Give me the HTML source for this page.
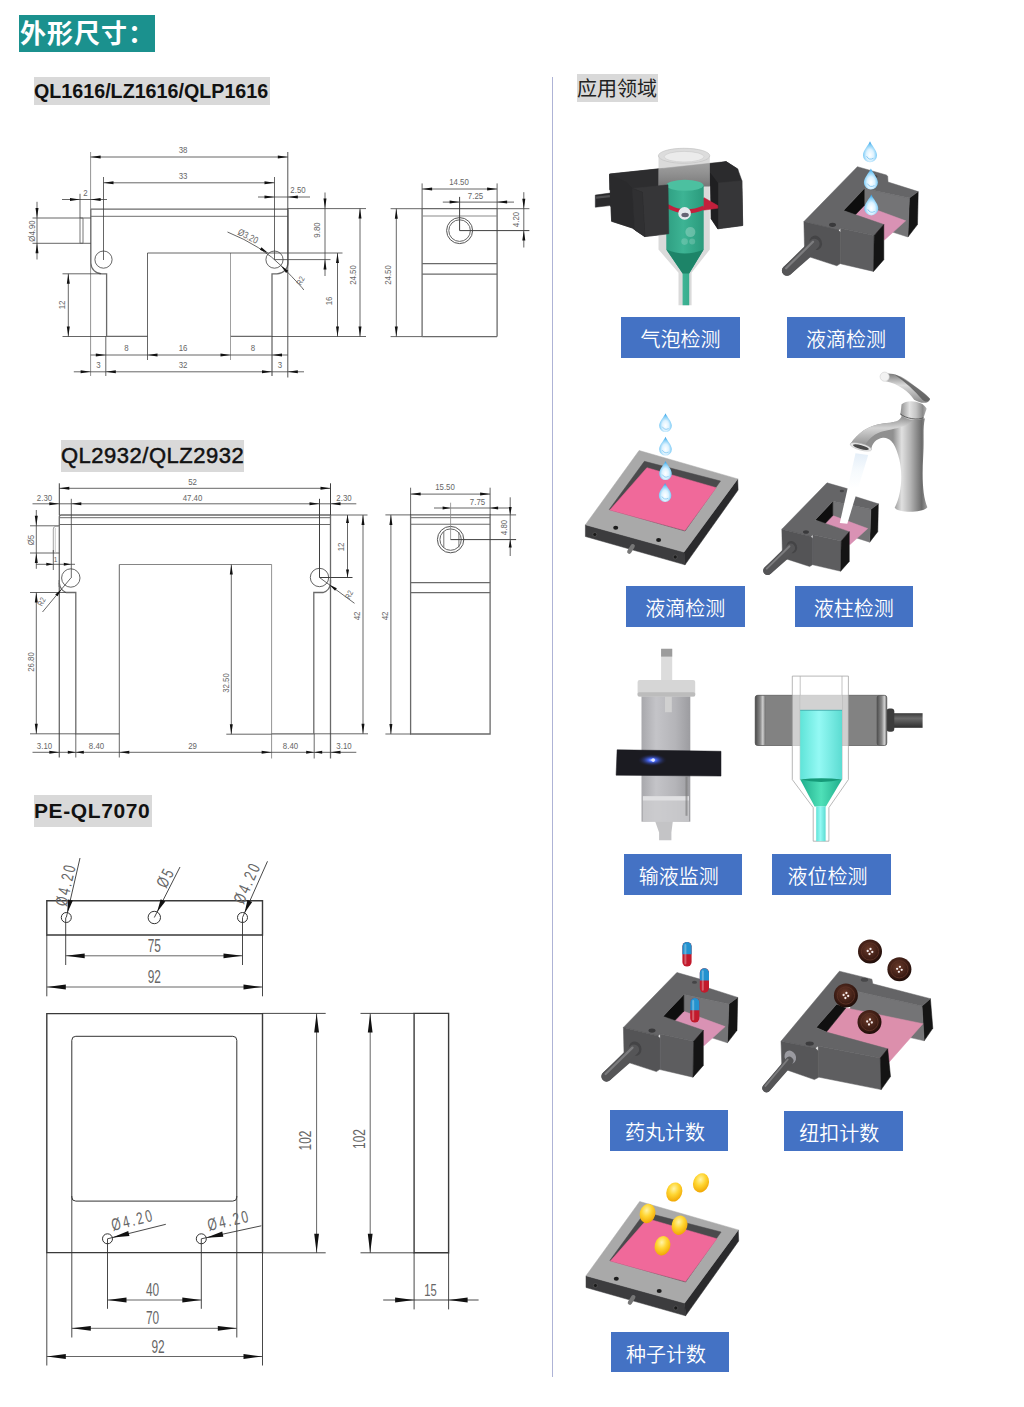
<!DOCTYPE html>
<html lang="zh"><head><meta charset="utf-8"><title>外形尺寸</title>
<style>
html,body{margin:0;padding:0;background:#fff}
body{width:1024px;height:1407px;position:relative;overflow:hidden;font-family:"Liberation Sans","Noto Sans CJK SC",sans-serif}
svg{position:absolute;left:0;top:0}
.d{font-family:"Liberation Sans",sans-serif}
.ttl{position:absolute;left:19px;top:15px;width:136px;height:37px;background:#1b918e;color:#fff;font-weight:700;font-size:26px;line-height:38px;box-sizing:border-box;padding-left:1px;letter-spacing:1px;white-space:nowrap}
.lb{position:absolute;background:#d9d9d9;color:#111;font-weight:700;white-space:nowrap}
.hd{position:absolute;left:577px;top:74px;width:81px;height:28px;background:#d9d9d9;color:#222;font-size:20px;line-height:30px;font-weight:400;white-space:nowrap}
.bl{position:absolute;background:#4472c4;color:#fff;font-size:20px;font-weight:300;text-align:center;white-space:nowrap;width:118.5px;height:40.7px;line-height:46px;box-sizing:border-box;font-weight:350}
</style></head><body>
<div class="ttl">外形尺寸：</div>
<div class="lb" style="left:34px;top:77px;width:236px;height:28px;font-size:19.7px;line-height:28px;">QL1616/LZ1616/QLP1616</div>
<div class="lb" style="left:61px;top:440px;width:183px;height:32px;font-size:22px;line-height:32px;font-weight:400;-webkit-text-stroke:0.5px #111;letter-spacing:0.5px">QL2932/QLZ2932</div>
<div class="lb" style="left:34px;top:795px;width:118px;height:32px;font-size:21px;line-height:31px;letter-spacing:0.6px">PE-QL7070</div>
<div class="hd">应用领域</div>
<div style="position:absolute;left:551.9px;top:76.5px;width:1.5px;height:1300.5px;background:#aeb3d6"></div>
<svg width="1024" height="1407" viewBox="0 0 1024 1407">
<g id="dw1">
<line x1="90.80" y1="209.20" x2="288.00" y2="209.20" stroke="#6a6a6a" stroke-width="1.3"/>
<line x1="90.80" y1="216.40" x2="288.00" y2="216.40" stroke="#8a8a8a" stroke-width="1.1"/>
<path d="M90.8 209.2 V263 A11 11 0 0 0 101.8 273.8 H106.6 V336.4 H147.5" stroke="#6a6a6a" stroke-width="1.3" fill="none"/>
<path d="M288 209.2 V263 A11 11 0 0 1 277 273.8 H272 V336.4 H230.5" stroke="#6a6a6a" stroke-width="1.3" fill="none"/>
<line x1="147.50" y1="253.00" x2="147.50" y2="360.00" stroke="#3f3f3f" stroke-width="0.8"/>
<line x1="230.50" y1="253.00" x2="230.50" y2="360.00" stroke="#888" stroke-width="0.8"/>
<line x1="147.50" y1="253.00" x2="342.50" y2="253.00" stroke="#3f3f3f" stroke-width="0.8"/>
<line x1="90.60" y1="152.00" x2="90.60" y2="376.00" stroke="#777" stroke-width="0.8"/>
<line x1="287.80" y1="152.00" x2="287.80" y2="377.50" stroke="#3f3f3f" stroke-width="0.9"/>
<line x1="103.50" y1="177.00" x2="103.50" y2="260.00" stroke="#3f3f3f" stroke-width="0.8"/>
<line x1="274.50" y1="177.00" x2="274.50" y2="260.00" stroke="#3f3f3f" stroke-width="0.8"/>
<line x1="105.80" y1="336.40" x2="105.80" y2="376.00" stroke="#3f3f3f" stroke-width="0.8"/>
<line x1="272.00" y1="336.40" x2="272.00" y2="376.00" stroke="#3f3f3f" stroke-width="1"/>
<circle cx="103.50" cy="259.60" r="8.60" stroke="#3f3f3f" stroke-width="0.8" fill="none"/>
<circle cx="274.50" cy="259.60" r="8.60" stroke="#3f3f3f" stroke-width="0.8" fill="none"/>
<line x1="32.50" y1="218.00" x2="90.80" y2="218.00" stroke="#3f3f3f" stroke-width="0.8"/>
<line x1="32.50" y1="243.30" x2="90.80" y2="243.30" stroke="#3f3f3f" stroke-width="0.8"/>
<path d="M80 218 H83 V243.3 H80 Z" stroke="#666" stroke-width="0.9" fill="none"/>
<line x1="80.00" y1="193.80" x2="80.00" y2="218.00" stroke="#3f3f3f" stroke-width="0.8"/>
<line x1="90.60" y1="157.00" x2="287.80" y2="157.00" stroke="#3f3f3f" stroke-width="0.8"/>
<polygon points="90.60,157.00 100.60,155.50 100.60,158.50" fill="#111"/>
<polygon points="287.80,157.00 277.80,158.50 277.80,155.50" fill="#111"/>
<text transform="translate(183.00,152.50) scale(0.82,1)" font-size="9.6" fill="#666" text-anchor="middle" letter-spacing="0" class="d">38</text>
<line x1="103.50" y1="182.80" x2="274.50" y2="182.80" stroke="#3f3f3f" stroke-width="0.8"/>
<polygon points="103.50,182.80 113.50,181.30 113.50,184.30" fill="#111"/>
<polygon points="274.50,182.80 264.50,184.30 264.50,181.30" fill="#111"/>
<text transform="translate(183.00,178.50) scale(0.82,1)" font-size="9.6" fill="#666" text-anchor="middle" letter-spacing="0" class="d">33</text>
<line x1="62.00" y1="199.50" x2="107.00" y2="199.50" stroke="#3f3f3f" stroke-width="0.8"/>
<polygon points="80.00,199.50 70.00,201.00 70.00,198.00" fill="#111"/>
<polygon points="90.60,199.50 100.60,198.00 100.60,201.00" fill="#111"/>
<text transform="translate(85.50,195.50) scale(0.82,1)" font-size="9.6" fill="#666" text-anchor="middle" letter-spacing="0" class="d">2</text>
<line x1="258.00" y1="197.00" x2="310.00" y2="197.00" stroke="#3f3f3f" stroke-width="0.8"/>
<polygon points="274.50,197.00 264.50,198.50 264.50,195.50" fill="#111"/>
<polygon points="287.80,197.00 297.80,195.50 297.80,198.50" fill="#111"/>
<text transform="translate(298.00,192.50) scale(0.82,1)" font-size="9.6" fill="#666" text-anchor="middle" letter-spacing="0" class="d">2.50</text>
<line x1="37.00" y1="201.80" x2="37.00" y2="259.50" stroke="#3f3f3f" stroke-width="0.8"/>
<polygon points="37.00,218.00 35.50,208.00 38.50,208.00" fill="#111"/>
<polygon points="37.00,243.30 38.50,253.30 35.50,253.30" fill="#111"/>
<text transform="translate(34.50,231.00) rotate(-90) scale(0.82,1)" font-size="9.6" fill="#666" text-anchor="middle" letter-spacing="0" class="d">Ø4.90</text>
<line x1="62.50" y1="273.80" x2="101.00" y2="273.80" stroke="#3f3f3f" stroke-width="0.8"/>
<line x1="62.50" y1="336.50" x2="106.00" y2="336.50" stroke="#3f3f3f" stroke-width="0.8"/>
<line x1="68.30" y1="273.80" x2="68.30" y2="336.50" stroke="#3f3f3f" stroke-width="0.8"/>
<polygon points="68.30,273.80 69.80,283.80 66.80,283.80" fill="#111"/>
<polygon points="68.30,336.50 66.80,326.50 69.80,326.50" fill="#111"/>
<text transform="translate(64.50,305.00) rotate(-90) scale(0.82,1)" font-size="9.6" fill="#666" text-anchor="middle" letter-spacing="0" class="d">12</text>
<line x1="90.60" y1="355.00" x2="287.80" y2="355.00" stroke="#3f3f3f" stroke-width="0.8"/>
<polygon points="105.80,355.00 95.80,356.50 95.80,353.50" fill="#111"/>
<polygon points="147.50,355.00 157.50,353.50 157.50,356.50" fill="#111"/>
<polygon points="230.50,355.00 220.50,356.50 220.50,353.50" fill="#111"/>
<polygon points="272.00,355.00 282.00,353.50 282.00,356.50" fill="#111"/>
<text transform="translate(126.50,351.00) scale(0.82,1)" font-size="9.6" fill="#666" text-anchor="middle" letter-spacing="0" class="d">8</text>
<text transform="translate(183.00,351.00) scale(0.82,1)" font-size="9.6" fill="#666" text-anchor="middle" letter-spacing="0" class="d">16</text>
<text transform="translate(253.00,351.00) scale(0.82,1)" font-size="9.6" fill="#666" text-anchor="middle" letter-spacing="0" class="d">8</text>
<line x1="73.80" y1="371.80" x2="304.00" y2="371.80" stroke="#3f3f3f" stroke-width="0.8"/>
<polygon points="90.60,371.80 80.60,373.30 80.60,370.30" fill="#111"/>
<polygon points="105.80,371.80 115.80,370.30 115.80,373.30" fill="#111"/>
<polygon points="272.00,371.80 262.00,373.30 262.00,370.30" fill="#111"/>
<polygon points="287.80,371.80 297.80,370.30 297.80,373.30" fill="#111"/>
<text transform="translate(98.50,367.50) scale(0.82,1)" font-size="9.6" fill="#666" text-anchor="middle" letter-spacing="0" class="d">3</text>
<text transform="translate(183.00,367.50) scale(0.82,1)" font-size="9.6" fill="#666" text-anchor="middle" letter-spacing="0" class="d">32</text>
<text transform="translate(280.00,367.50) scale(0.82,1)" font-size="9.6" fill="#666" text-anchor="middle" letter-spacing="0" class="d">3</text>
<line x1="287.80" y1="208.60" x2="366.00" y2="208.60" stroke="#3f3f3f" stroke-width="0.8"/>
<line x1="272.00" y1="336.50" x2="366.00" y2="336.50" stroke="#3f3f3f" stroke-width="0.8"/>
<line x1="275.00" y1="259.60" x2="330.50" y2="259.60" stroke="#3f3f3f" stroke-width="0.8"/>
<line x1="325.00" y1="192.50" x2="325.00" y2="276.00" stroke="#3f3f3f" stroke-width="0.8"/>
<polygon points="325.00,208.60 323.50,198.60 326.50,198.60" fill="#111"/>
<polygon points="325.00,259.60 326.50,269.60 323.50,269.60" fill="#111"/>
<text transform="translate(319.50,230.00) rotate(-90) scale(0.82,1)" font-size="9.6" fill="#666" text-anchor="middle" letter-spacing="0" class="d">9.80</text>
<line x1="337.50" y1="253.00" x2="337.50" y2="336.50" stroke="#3f3f3f" stroke-width="0.8"/>
<polygon points="337.50,253.00 339.00,263.00 336.00,263.00" fill="#111"/>
<polygon points="337.50,336.50 336.00,326.50 339.00,326.50" fill="#111"/>
<text transform="translate(331.50,301.00) rotate(-90) scale(0.82,1)" font-size="9.6" fill="#666" text-anchor="middle" letter-spacing="0" class="d">16</text>
<line x1="360.00" y1="208.60" x2="360.00" y2="336.50" stroke="#3f3f3f" stroke-width="0.8"/>
<polygon points="360.00,208.60 361.50,218.60 358.50,218.60" fill="#111"/>
<polygon points="360.00,336.50 358.50,326.50 361.50,326.50" fill="#111"/>
<text transform="translate(356.00,275.00) rotate(-90) scale(0.82,1)" font-size="9.6" fill="#666" text-anchor="middle" letter-spacing="0" class="d">24.50</text>
<path d="M227.5 232 Q262 246 282.5 267 T303.8 290" stroke="#3f3f3f" stroke-width="0.8" fill="none"/>
<polygon points="268.30,253.20 259.87,249.70 261.46,247.16" fill="#111"/>
<polygon points="280.80,265.50 288.22,270.80 286.10,272.92" fill="#111"/>
<text transform="translate(246.50,239.00) rotate(27) scale(0.82,1)" font-size="9.6" fill="#666" text-anchor="middle" letter-spacing="0" class="d">Ø3.20</text>
<text transform="translate(303.00,282.00) rotate(-62) scale(0.82,1)" font-size="8" fill="#666" text-anchor="middle" letter-spacing="0" class="d">R2</text>
<line x1="422.10" y1="208.70" x2="497.10" y2="208.70" stroke="#6a6a6a" stroke-width="1.3"/>
<line x1="422.10" y1="208.70" x2="422.10" y2="336.60" stroke="#6a6a6a" stroke-width="1.3"/>
<line x1="497.10" y1="208.70" x2="497.10" y2="336.60" stroke="#6a6a6a" stroke-width="1.3"/>
<line x1="422.10" y1="336.60" x2="497.10" y2="336.60" stroke="#6a6a6a" stroke-width="1.3"/>
<line x1="422.10" y1="216.00" x2="497.10" y2="216.00" stroke="#8a8a8a" stroke-width="1.1"/>
<line x1="422.10" y1="263.60" x2="497.10" y2="263.60" stroke="#6a6a6a" stroke-width="1.3"/>
<line x1="422.10" y1="274.10" x2="497.10" y2="274.10" stroke="#6a6a6a" stroke-width="1.3"/>
<circle cx="459.60" cy="230.60" r="13.00" stroke="#555" stroke-width="1" fill="none"/>
<circle cx="459.60" cy="230.60" r="10.80" stroke="#555" stroke-width="0.9" fill="none"/>
<line x1="422.10" y1="183.40" x2="422.10" y2="208.70" stroke="#3f3f3f" stroke-width="0.8"/>
<line x1="497.10" y1="183.40" x2="497.10" y2="208.70" stroke="#3f3f3f" stroke-width="0.8"/>
<line x1="422.10" y1="189.00" x2="497.10" y2="189.00" stroke="#3f3f3f" stroke-width="0.8"/>
<polygon points="422.10,189.00 432.10,187.50 432.10,190.50" fill="#111"/>
<polygon points="497.10,189.00 487.10,190.50 487.10,187.50" fill="#111"/>
<text transform="translate(459.00,185.00) scale(0.82,1)" font-size="9.6" fill="#666" text-anchor="middle" letter-spacing="0" class="d">14.50</text>
<line x1="442.80" y1="202.10" x2="514.00" y2="202.10" stroke="#3f3f3f" stroke-width="0.8"/>
<polygon points="459.60,202.10 449.60,203.60 449.60,200.60" fill="#111"/>
<polygon points="497.10,202.10 507.10,200.60 507.10,203.60" fill="#111"/>
<line x1="459.60" y1="196.90" x2="459.60" y2="230.60" stroke="#3f3f3f" stroke-width="1"/>
<text transform="translate(475.50,198.50) scale(0.82,1)" font-size="9.6" fill="#666" text-anchor="middle" letter-spacing="0" class="d">7.25</text>
<line x1="523.80" y1="192.20" x2="523.80" y2="247.50" stroke="#3f3f3f" stroke-width="0.8"/>
<polygon points="523.80,208.70 522.30,198.70 525.30,198.70" fill="#111"/>
<polygon points="523.80,230.60 525.30,240.60 522.30,240.60" fill="#111"/>
<line x1="497.10" y1="208.70" x2="529.40" y2="208.70" stroke="#3f3f3f" stroke-width="0.8"/>
<line x1="459.60" y1="230.60" x2="529.40" y2="230.60" stroke="#3f3f3f" stroke-width="1"/>
<text transform="translate(519.00,219.50) rotate(-90) scale(0.82,1)" font-size="9.6" fill="#666" text-anchor="middle" letter-spacing="0" class="d">4.20</text>
<line x1="390.60" y1="208.70" x2="422.10" y2="208.70" stroke="#3f3f3f" stroke-width="0.8"/>
<line x1="390.60" y1="336.60" x2="422.10" y2="336.60" stroke="#3f3f3f" stroke-width="0.8"/>
<line x1="396.30" y1="208.70" x2="396.30" y2="336.60" stroke="#3f3f3f" stroke-width="0.8"/>
<polygon points="396.30,208.70 397.80,218.70 394.80,218.70" fill="#111"/>
<polygon points="396.30,336.60 394.80,326.60 397.80,326.60" fill="#111"/>
<text transform="translate(391.00,275.00) rotate(-90) scale(0.82,1)" font-size="9.6" fill="#666" text-anchor="middle" letter-spacing="0" class="d">24.50</text>
</g>
<g id="dw2">
<path d="M59.3 587 V517 Q59.3 515 61.3 515 H330.5" stroke="#6a6a6a" stroke-width="1.3" fill="none"/>
<line x1="59.30" y1="524.50" x2="330.50" y2="524.50" stroke="#6a6a6a" stroke-width="1.2"/>
<line x1="59.80" y1="517.70" x2="330.50" y2="517.70" stroke="#6a6a6a" stroke-width="1.0"/>
<path d="M59.3 583 Q60 590 66 592.5 H75.8 V733.8 H119.3" stroke="#6a6a6a" stroke-width="1.3" fill="none"/>
<line x1="59.30" y1="580.00" x2="59.30" y2="757.50" stroke="#6a6a6a" stroke-width="1.3"/>
<path d="M330.5 515 V583 Q330 590.5 323 592.5 H313.8 V733.8 H271.5" stroke="#6a6a6a" stroke-width="1.3" fill="none"/>
<line x1="330.50" y1="580.00" x2="330.50" y2="758.50" stroke="#6a6a6a" stroke-width="1.3"/>
<line x1="75.80" y1="733.80" x2="75.80" y2="757.50" stroke="#6a6a6a" stroke-width="1"/>
<line x1="314.20" y1="733.80" x2="314.20" y2="758.50" stroke="#6a6a6a" stroke-width="1"/>
<line x1="119.30" y1="564.50" x2="119.30" y2="757.50" stroke="#3f3f3f" stroke-width="0.8"/>
<line x1="271.60" y1="564.50" x2="271.60" y2="758.50" stroke="#777" stroke-width="0.8"/>
<line x1="119.30" y1="564.50" x2="271.60" y2="564.50" stroke="#666" stroke-width="0.8"/>
<circle cx="70.80" cy="578.00" r="9.20" stroke="#3f3f3f" stroke-width="0.8" fill="none"/>
<circle cx="319.50" cy="577.50" r="9.20" stroke="#3f3f3f" stroke-width="0.8" fill="none"/>
<line x1="59.30" y1="483.30" x2="59.30" y2="515.00" stroke="#3f3f3f" stroke-width="1"/>
<line x1="330.50" y1="483.30" x2="330.50" y2="515.00" stroke="#3f3f3f" stroke-width="1"/>
<line x1="59.30" y1="488.30" x2="330.50" y2="488.30" stroke="#3f3f3f" stroke-width="0.8"/>
<polygon points="59.30,488.30 69.30,486.80 69.30,489.80" fill="#111"/>
<polygon points="330.50,488.30 320.50,489.80 320.50,486.80" fill="#111"/>
<text transform="translate(192.50,484.50) scale(0.82,1)" font-size="9.6" fill="#666" text-anchor="middle" letter-spacing="0" class="d">52</text>
<line x1="32.50" y1="503.80" x2="356.30" y2="503.80" stroke="#3f3f3f" stroke-width="0.8"/>
<polygon points="59.30,503.80 49.30,505.30 49.30,502.30" fill="#111"/>
<polygon points="71.30,503.80 81.30,502.30 81.30,505.30" fill="#111"/>
<polygon points="319.50,503.80 309.50,505.30 309.50,502.30" fill="#111"/>
<polygon points="330.50,503.80 340.50,502.30 340.50,505.30" fill="#111"/>
<line x1="71.30" y1="498.80" x2="71.30" y2="578.00" stroke="#3f3f3f" stroke-width="0.8"/>
<line x1="319.50" y1="498.80" x2="319.50" y2="577.50" stroke="#3f3f3f" stroke-width="1"/>
<text transform="translate(44.50,500.50) scale(0.82,1)" font-size="9.6" fill="#666" text-anchor="middle" letter-spacing="0" class="d">2.30</text>
<text transform="translate(192.50,500.50) scale(0.82,1)" font-size="9.6" fill="#666" text-anchor="middle" letter-spacing="0" class="d">47.40</text>
<text transform="translate(344.00,500.50) scale(0.82,1)" font-size="9.6" fill="#666" text-anchor="middle" letter-spacing="0" class="d">2.30</text>
<line x1="36.30" y1="510.00" x2="36.30" y2="568.80" stroke="#3f3f3f" stroke-width="0.8"/>
<polygon points="36.30,525.80 34.80,515.80 37.80,515.80" fill="#111"/>
<polygon points="36.30,553.00 37.80,563.00 34.80,563.00" fill="#111"/>
<line x1="30.00" y1="525.80" x2="59.30" y2="525.80" stroke="#3f3f3f" stroke-width="0.8"/>
<line x1="30.00" y1="553.00" x2="59.30" y2="553.00" stroke="#3f3f3f" stroke-width="0.8"/>
<text transform="translate(34.00,540.00) rotate(-90) scale(0.82,1)" font-size="9.6" fill="#666" text-anchor="middle" letter-spacing="0" class="d">Ø5</text>
<path d="M53.3 553 V529 Q53.3 526.3 56 526.3 H59.3" stroke="#999" stroke-width="0.9" fill="none"/>
<line x1="55.30" y1="528.00" x2="55.30" y2="553.00" stroke="#bbb" stroke-width="0.8"/>
<line x1="53.30" y1="550.00" x2="53.30" y2="570.00" stroke="#3f3f3f" stroke-width="0.8"/>
<line x1="36.30" y1="564.30" x2="75.00" y2="564.30" stroke="#3f3f3f" stroke-width="0.8"/>
<polygon points="53.30,564.30 46.30,565.80 46.30,562.80" fill="#111"/>
<polygon points="70.80,564.30 63.80,565.80 63.80,562.80" fill="#111"/>
<text transform="translate(55.50,561.50) scale(0.82,1)" font-size="8" fill="#666" text-anchor="middle" letter-spacing="0" class="d">1</text>
<line x1="30.00" y1="592.50" x2="66.00" y2="592.50" stroke="#3f3f3f" stroke-width="0.8"/>
<line x1="30.00" y1="733.80" x2="75.80" y2="733.80" stroke="#3f3f3f" stroke-width="0.8"/>
<line x1="36.30" y1="592.50" x2="36.30" y2="733.80" stroke="#3f3f3f" stroke-width="0.8"/>
<polygon points="36.30,592.50 37.80,602.50 34.80,602.50" fill="#111"/>
<polygon points="36.30,733.80 34.80,723.80 37.80,723.80" fill="#111"/>
<text transform="translate(33.50,662.00) rotate(-90) scale(0.82,1)" font-size="9.6" fill="#666" text-anchor="middle" letter-spacing="0" class="d">26.80</text>
<line x1="42.50" y1="612.00" x2="70.80" y2="578.00" stroke="#3f3f3f" stroke-width="0.8"/>
<polygon points="61.50,589.20 57.53,596.31 55.23,594.39" fill="#111"/>
<text transform="translate(44.00,603.00) rotate(-62) scale(0.82,1)" font-size="8" fill="#666" text-anchor="middle" letter-spacing="0" class="d">R2</text>
<line x1="32.50" y1="752.30" x2="356.30" y2="752.30" stroke="#3f3f3f" stroke-width="0.8"/>
<polygon points="59.30,752.30 49.30,753.80 49.30,750.80" fill="#111"/>
<polygon points="75.80,752.30 67.80,753.80 67.80,750.80" fill="#111"/>
<polygon points="75.80,752.30 83.80,750.80 83.80,753.80" fill="#111"/>
<polygon points="119.30,752.30 129.30,750.80 129.30,753.80" fill="#111"/>
<polygon points="271.60,752.30 261.60,753.80 261.60,750.80" fill="#111"/>
<polygon points="314.20,752.30 306.20,753.80 306.20,750.80" fill="#111"/>
<polygon points="314.20,752.30 322.20,750.80 322.20,753.80" fill="#111"/>
<polygon points="330.50,752.30 340.50,750.80 340.50,753.80" fill="#111"/>
<text transform="translate(44.50,749.00) scale(0.82,1)" font-size="9.6" fill="#666" text-anchor="middle" letter-spacing="0" class="d">3.10</text>
<text transform="translate(96.50,749.00) scale(0.82,1)" font-size="9.6" fill="#666" text-anchor="middle" letter-spacing="0" class="d">8.40</text>
<text transform="translate(192.50,749.00) scale(0.82,1)" font-size="9.6" fill="#666" text-anchor="middle" letter-spacing="0" class="d">29</text>
<text transform="translate(290.50,749.00) scale(0.82,1)" font-size="9.6" fill="#666" text-anchor="middle" letter-spacing="0" class="d">8.40</text>
<text transform="translate(344.00,749.00) scale(0.82,1)" font-size="9.6" fill="#666" text-anchor="middle" letter-spacing="0" class="d">3.10</text>
<line x1="226.30" y1="734.20" x2="271.60" y2="734.20" stroke="#3f3f3f" stroke-width="0.8"/>
<line x1="231.30" y1="564.50" x2="231.30" y2="734.20" stroke="#3f3f3f" stroke-width="0.8"/>
<polygon points="231.30,564.50 232.80,574.50 229.80,574.50" fill="#111"/>
<polygon points="231.30,734.20 229.80,724.20 232.80,724.20" fill="#111"/>
<text transform="translate(228.50,683.00) rotate(-90) scale(0.82,1)" font-size="9.6" fill="#666" text-anchor="middle" letter-spacing="0" class="d">32.50</text>
<line x1="330.50" y1="515.00" x2="367.50" y2="515.00" stroke="#3f3f3f" stroke-width="0.8"/>
<line x1="319.50" y1="577.50" x2="352.50" y2="577.50" stroke="#3f3f3f" stroke-width="1"/>
<line x1="347.50" y1="515.00" x2="347.50" y2="577.50" stroke="#3f3f3f" stroke-width="0.8"/>
<polygon points="347.50,515.00 349.00,523.00 346.00,523.00" fill="#111"/>
<polygon points="347.50,577.50 346.00,569.50 349.00,569.50" fill="#111"/>
<text transform="translate(343.50,547.00) rotate(-90) scale(0.82,1)" font-size="9.6" fill="#666" text-anchor="middle" letter-spacing="0" class="d">12</text>
<line x1="319.50" y1="577.50" x2="354.50" y2="603.30" stroke="#3f3f3f" stroke-width="0.8"/>
<polygon points="329.50,584.80 336.83,588.34 335.05,590.75" fill="#111"/>
<text transform="translate(351.50,596.00) rotate(-62) scale(0.82,1)" font-size="8" fill="#666" text-anchor="middle" letter-spacing="0" class="d">R2</text>
<line x1="314.20" y1="733.80" x2="368.00" y2="733.80" stroke="#3f3f3f" stroke-width="0.8"/>
<line x1="363.00" y1="515.00" x2="363.00" y2="733.80" stroke="#3f3f3f" stroke-width="0.8"/>
<polygon points="363.00,515.00 364.50,525.00 361.50,525.00" fill="#111"/>
<polygon points="363.00,733.80 361.50,723.80 364.50,723.80" fill="#111"/>
<text transform="translate(360.00,616.00) rotate(-90) scale(0.82,1)" font-size="9.6" fill="#666" text-anchor="middle" letter-spacing="0" class="d">42</text>
<path d="M410.6 514.9 H490.1 V734 H410.6 Z" stroke="#6a6a6a" stroke-width="1.3" fill="none"/>
<line x1="410.60" y1="524.20" x2="490.10" y2="524.20" stroke="#6a6a6a" stroke-width="1.1"/>
<line x1="410.60" y1="517.70" x2="490.10" y2="517.70" stroke="#6a6a6a" stroke-width="1.0"/>
<line x1="410.60" y1="582.70" x2="490.10" y2="582.70" stroke="#6a6a6a" stroke-width="1.3"/>
<line x1="410.60" y1="592.70" x2="490.10" y2="592.70" stroke="#6a6a6a" stroke-width="1.3"/>
<circle cx="450.60" cy="539.60" r="13.20" stroke="#555" stroke-width="1" fill="none"/>
<circle cx="450.60" cy="539.60" r="10.70" stroke="#555" stroke-width="0.9" fill="none"/>
<line x1="443.80" y1="532.00" x2="443.80" y2="547.50" stroke="#666" stroke-width="0.9"/>
<line x1="458.90" y1="532.00" x2="458.90" y2="547.50" stroke="#666" stroke-width="0.9"/>
<line x1="410.60" y1="487.70" x2="410.60" y2="515.00" stroke="#3f3f3f" stroke-width="0.8"/>
<line x1="490.10" y1="487.70" x2="490.10" y2="515.00" stroke="#3f3f3f" stroke-width="0.8"/>
<line x1="410.60" y1="494.10" x2="490.10" y2="494.10" stroke="#3f3f3f" stroke-width="0.8"/>
<polygon points="410.60,494.10 420.60,492.60 420.60,495.60" fill="#111"/>
<polygon points="490.10,494.10 480.10,495.60 480.10,492.60" fill="#111"/>
<text transform="translate(445.00,490.00) scale(0.82,1)" font-size="9.6" fill="#666" text-anchor="middle" letter-spacing="0" class="d">15.50</text>
<line x1="434.00" y1="508.00" x2="508.70" y2="508.00" stroke="#3f3f3f" stroke-width="0.8"/>
<polygon points="450.60,508.00 442.60,509.50 442.60,506.50" fill="#111"/>
<polygon points="490.10,508.00 498.10,506.50 498.10,509.50" fill="#111"/>
<line x1="450.60" y1="502.70" x2="450.60" y2="539.60" stroke="#888" stroke-width="0.8"/>
<text transform="translate(477.50,505.00) scale(0.82,1)" font-size="9.6" fill="#666" text-anchor="middle" letter-spacing="0" class="d">7.75</text>
<line x1="510.20" y1="497.30" x2="510.20" y2="556.00" stroke="#3f3f3f" stroke-width="0.8"/>
<polygon points="510.20,514.90 508.70,506.90 511.70,506.90" fill="#111"/>
<polygon points="510.20,539.60 511.70,547.60 508.70,547.60" fill="#111"/>
<line x1="490.10" y1="514.90" x2="516.10" y2="514.90" stroke="#3f3f3f" stroke-width="0.8"/>
<line x1="450.60" y1="539.60" x2="516.10" y2="539.60" stroke="#3f3f3f" stroke-width="1"/>
<text transform="translate(507.00,527.50) rotate(-90) scale(0.82,1)" font-size="9.6" fill="#666" text-anchor="middle" letter-spacing="0" class="d">4.80</text>
<line x1="385.40" y1="514.90" x2="410.60" y2="514.90" stroke="#3f3f3f" stroke-width="0.8"/>
<line x1="385.40" y1="734.00" x2="410.60" y2="734.00" stroke="#3f3f3f" stroke-width="0.8"/>
<line x1="390.90" y1="514.90" x2="390.90" y2="734.00" stroke="#3f3f3f" stroke-width="0.8"/>
<polygon points="390.90,514.90 392.40,524.90 389.40,524.90" fill="#111"/>
<polygon points="390.90,734.00 389.40,724.00 392.40,724.00" fill="#111"/>
<text transform="translate(387.50,616.00) rotate(-90) scale(0.82,1)" font-size="9.6" fill="#666" text-anchor="middle" letter-spacing="0" class="d">42</text>
</g>
<g id="dw3">
<path d="M46.8 900.8 H262.5 V935 H46.8 Z" stroke="#3a3a3a" stroke-width="1.4" fill="none"/>
<circle cx="66.30" cy="917.50" r="5.00" stroke="#333" stroke-width="1" fill="none"/>
<circle cx="154.30" cy="917.50" r="6.20" stroke="#333" stroke-width="1" fill="none"/>
<circle cx="242.50" cy="917.50" r="5.00" stroke="#333" stroke-width="1" fill="none"/>
<line x1="66.30" y1="917.50" x2="80.00" y2="858.00" stroke="#333" stroke-width="0.9"/>
<polygon points="67.42,912.63 67.81,899.38 72.87,900.54" fill="#111"/>
<line x1="154.30" y1="917.50" x2="180.00" y2="867.00" stroke="#333" stroke-width="0.9"/>
<polygon points="157.11,911.97 160.69,899.21 165.33,901.57" fill="#111"/>
<line x1="242.50" y1="917.50" x2="267.50" y2="861.30" stroke="#333" stroke-width="0.9"/>
<polygon points="244.53,912.93 247.44,900.00 252.19,902.11" fill="#111"/>
<text transform="translate(66.50,907.00) rotate(-77) scale(0.7,1)" font-size="17" fill="#666" text-anchor="start" letter-spacing="3.2" class="d">Ø4.20</text>
<text transform="translate(166.00,889.00) rotate(-63) scale(0.7,1)" font-size="17" fill="#666" text-anchor="start" letter-spacing="3.2" class="d">Ø5</text>
<text transform="translate(243.50,905.00) rotate(-66) scale(0.7,1)" font-size="17" fill="#666" text-anchor="start" letter-spacing="3.2" class="d">Ø4.20</text>
<line x1="65.70" y1="917.50" x2="65.70" y2="965.00" stroke="#333" stroke-width="0.9"/>
<line x1="242.50" y1="917.50" x2="242.50" y2="965.00" stroke="#333" stroke-width="0.9"/>
<line x1="65.70" y1="955.80" x2="242.50" y2="955.80" stroke="#3f3f3f" stroke-width="0.8"/>
<polygon points="65.70,955.80 84.70,953.40 84.70,958.20" fill="#111"/>
<polygon points="242.50,955.80 223.50,958.20 223.50,953.40" fill="#111"/>
<text transform="translate(154.30,952.00) scale(0.66,1)" font-size="18" fill="#666" text-anchor="middle" letter-spacing="0" class="d">75</text>
<line x1="46.80" y1="935.00" x2="46.80" y2="996.30" stroke="#333" stroke-width="0.9"/>
<line x1="262.50" y1="935.00" x2="262.50" y2="996.30" stroke="#333" stroke-width="0.9"/>
<line x1="46.80" y1="987.00" x2="262.50" y2="987.00" stroke="#3f3f3f" stroke-width="0.8"/>
<polygon points="46.80,987.00 65.80,984.60 65.80,989.40" fill="#111"/>
<polygon points="262.50,987.00 243.50,989.40 243.50,984.60" fill="#111"/>
<text transform="translate(154.30,983.00) scale(0.66,1)" font-size="18" fill="#666" text-anchor="middle" letter-spacing="0" class="d">92</text>
<path d="M46.8 1013.6 H262.5 V1252.6 H46.8 Z" stroke="#3a3a3a" stroke-width="1.4" fill="none"/>
<rect x="71.8" y="1036.3" width="165" height="164.8" rx="4" ry="4" fill="none" stroke="#333" stroke-width="1"/>
<line x1="71.80" y1="1196.00" x2="71.80" y2="1337.50" stroke="#333" stroke-width="0.9"/>
<line x1="236.80" y1="1196.00" x2="236.80" y2="1337.50" stroke="#333" stroke-width="0.9"/>
<circle cx="107.50" cy="1238.80" r="5.00" stroke="#333" stroke-width="1" fill="none"/>
<circle cx="201.30" cy="1238.80" r="5.00" stroke="#333" stroke-width="1" fill="none"/>
<line x1="107.50" y1="1238.80" x2="165.80" y2="1224.30" stroke="#333" stroke-width="0.9"/>
<polygon points="112.35,1237.59 128.22,1230.97 129.48,1236.01" fill="#111"/>
<line x1="201.30" y1="1238.80" x2="261.30" y2="1225.80" stroke="#333" stroke-width="0.9"/>
<polygon points="206.19,1237.74 222.25,1231.60 223.35,1236.68" fill="#111"/>
<text transform="translate(113.00,1231.00) rotate(-14) scale(0.7,1)" font-size="17" fill="#666" text-anchor="start" letter-spacing="3.2" class="d">Ø4.20</text>
<text transform="translate(209.00,1231.00) rotate(-13) scale(0.7,1)" font-size="17" fill="#666" text-anchor="start" letter-spacing="3.2" class="d">Ø4.20</text>
<line x1="107.50" y1="1238.80" x2="107.50" y2="1308.80" stroke="#333" stroke-width="0.9"/>
<line x1="201.30" y1="1238.80" x2="201.30" y2="1308.80" stroke="#333" stroke-width="0.9"/>
<line x1="107.50" y1="1300.00" x2="201.30" y2="1300.00" stroke="#3f3f3f" stroke-width="0.8"/>
<polygon points="107.50,1300.00 126.50,1297.60 126.50,1302.40" fill="#111"/>
<polygon points="201.30,1300.00 182.30,1302.40 182.30,1297.60" fill="#111"/>
<text transform="translate(152.50,1296.00) scale(0.66,1)" font-size="18" fill="#666" text-anchor="middle" letter-spacing="0" class="d">40</text>
<line x1="71.80" y1="1328.30" x2="236.80" y2="1328.30" stroke="#3f3f3f" stroke-width="0.8"/>
<polygon points="71.80,1328.30 90.80,1325.90 90.80,1330.70" fill="#111"/>
<polygon points="236.80,1328.30 217.80,1330.70 217.80,1325.90" fill="#111"/>
<text transform="translate(152.50,1324.00) scale(0.66,1)" font-size="18" fill="#666" text-anchor="middle" letter-spacing="0" class="d">70</text>
<line x1="46.80" y1="1252.60" x2="46.80" y2="1365.50" stroke="#333" stroke-width="0.9"/>
<line x1="262.50" y1="1252.60" x2="262.50" y2="1365.50" stroke="#333" stroke-width="0.9"/>
<line x1="46.80" y1="1356.50" x2="262.50" y2="1356.50" stroke="#3f3f3f" stroke-width="0.8"/>
<polygon points="46.80,1356.50 65.80,1354.10 65.80,1358.90" fill="#111"/>
<polygon points="262.50,1356.50 243.50,1358.90 243.50,1354.10" fill="#111"/>
<text transform="translate(158.00,1353.00) scale(0.66,1)" font-size="18" fill="#666" text-anchor="middle" letter-spacing="0" class="d">92</text>
<line x1="262.50" y1="1013.40" x2="325.70" y2="1013.40" stroke="#333" stroke-width="0.9"/>
<line x1="262.50" y1="1252.80" x2="325.70" y2="1252.80" stroke="#333" stroke-width="0.9"/>
<line x1="316.60" y1="1013.40" x2="316.60" y2="1252.80" stroke="#3f3f3f" stroke-width="0.8"/>
<polygon points="316.60,1013.40 319.00,1032.40 314.20,1032.40" fill="#111"/>
<polygon points="316.60,1252.80 314.20,1233.80 319.00,1233.80" fill="#111"/>
<text transform="translate(311.00,1140.50) rotate(-90) scale(0.7,1)" font-size="17" fill="#666" text-anchor="middle" letter-spacing="0" class="d">102</text>
<line x1="360.50" y1="1013.40" x2="414.10" y2="1013.40" stroke="#333" stroke-width="0.9"/>
<line x1="360.50" y1="1252.80" x2="414.10" y2="1252.80" stroke="#333" stroke-width="0.9"/>
<line x1="370.20" y1="1013.40" x2="370.20" y2="1252.80" stroke="#3f3f3f" stroke-width="0.8"/>
<polygon points="370.20,1013.40 372.60,1032.40 367.80,1032.40" fill="#111"/>
<polygon points="370.20,1252.80 367.80,1233.80 372.60,1233.80" fill="#111"/>
<text transform="translate(364.50,1139.00) rotate(-90) scale(0.7,1)" font-size="17" fill="#666" text-anchor="middle" letter-spacing="0" class="d">102</text>
<path d="M414.1 1013.4 H448.6 V1252.8 H414.1 Z" stroke="#3a3a3a" stroke-width="1.4" fill="none"/>
<line x1="414.10" y1="1252.80" x2="414.10" y2="1309.40" stroke="#333" stroke-width="0.9"/>
<line x1="448.60" y1="1252.80" x2="448.60" y2="1309.40" stroke="#333" stroke-width="0.9"/>
<line x1="383.20" y1="1300.00" x2="478.60" y2="1300.00" stroke="#333" stroke-width="0.9"/>
<polygon points="414.10,1300.00 395.10,1302.40 395.10,1297.60" fill="#111"/>
<polygon points="448.60,1300.00 467.60,1297.60 467.60,1302.40" fill="#111"/>
<text transform="translate(430.50,1296.00) scale(0.66,1)" font-size="17" fill="#666" text-anchor="middle" letter-spacing="0" class="d">15</text>
</g>
<defs>
<linearGradient id="gGreen" x1="0" x2="1" y1="0" y2="0"><stop offset="0" stop-color="#2f9f82"/><stop offset="0.45" stop-color="#3db494"/><stop offset="1" stop-color="#2a9a7c"/></linearGradient>
<linearGradient id="gGlass" x1="0" x2="1" y1="0" y2="0"><stop offset="0" stop-color="#bdbdbd"/><stop offset="0.5" stop-color="#e4e4e4"/><stop offset="1" stop-color="#b8b8b8"/></linearGradient>
<radialGradient id="gDrop" cx="0.5" cy="0.66" r="0.6"><stop offset="0" stop-color="#ffffff"/><stop offset="0.45" stop-color="#dcf2ff"/><stop offset="0.8" stop-color="#7fccf6"/><stop offset="1" stop-color="#3fa6e8"/></radialGradient>
<linearGradient id="gCable" x1="0" x2="0" y1="0" y2="1"><stop offset="0" stop-color="#3a3a3a"/><stop offset="0.35" stop-color="#6a6a6a"/><stop offset="1" stop-color="#2e2e2e"/></linearGradient>
<linearGradient id="gCyan" x1="0" x2="1" y1="0" y2="0"><stop offset="0" stop-color="#5fe4d8"/><stop offset="0.45" stop-color="#94f9f4"/><stop offset="1" stop-color="#5cdcd2"/></linearGradient>
<linearGradient id="gCone" x1="0" x2="1" y1="0" y2="0"><stop offset="0" stop-color="#1fae8c"/><stop offset="0.5" stop-color="#4fe0b8"/><stop offset="1" stop-color="#1fae8c"/></linearGradient>
<linearGradient id="gSilver" x1="0" x2="1" y1="0" y2="0"><stop offset="0" stop-color="#8e8e8e"/><stop offset="0.35" stop-color="#e2e2e2"/><stop offset="0.6" stop-color="#c4c4c4"/><stop offset="0.85" stop-color="#8a8a8a"/><stop offset="1" stop-color="#b5b5b5"/></linearGradient>
<linearGradient id="gSilverV" x1="0" x2="0" y1="0" y2="1"><stop offset="0" stop-color="#7c7c7c"/><stop offset="0.4" stop-color="#dcdcdc"/><stop offset="1" stop-color="#8a8a8a"/></linearGradient>
<linearGradient id="gCyl" x1="0" x2="1" y1="0" y2="0"><stop offset="0" stop-color="#a8a8ac"/><stop offset="0.3" stop-color="#c4c4c8"/><stop offset="0.7" stop-color="#b4b4b8"/><stop offset="1" stop-color="#9c9ca0"/></linearGradient>
<linearGradient id="gEnd" x1="0" x2="1" y1="0" y2="0"><stop offset="0" stop-color="#4a4a4a"/><stop offset="0.5" stop-color="#8a8a8a"/><stop offset="0.75" stop-color="#d0d0d0"/><stop offset="1" stop-color="#707070"/></linearGradient>
<radialGradient id="gSeed" cx="0.4" cy="0.35" r="0.7"><stop offset="0" stop-color="#fff4a8"/><stop offset="0.45" stop-color="#ffd632"/><stop offset="1" stop-color="#f0a400"/></radialGradient>
<radialGradient id="gBtn" cx="0.45" cy="0.4" r="0.6"><stop offset="0" stop-color="#6a3a2a"/><stop offset="0.7" stop-color="#3c1c14"/><stop offset="1" stop-color="#1e0c08"/></radialGradient>
<radialGradient id="gLed" cx="0.5" cy="0.5" r="0.5"><stop offset="0" stop-color="#e0e8ff"/><stop offset="0.25" stop-color="#4a6cff"/><stop offset="1" stop-color="#1a1c3a" stop-opacity="0"/></radialGradient>
<linearGradient id="gWater" x1="0" x2="0" y1="0" y2="1"><stop offset="0" stop-color="#e4eef8"/><stop offset="0.25" stop-color="#f6fafd"/><stop offset="0.5" stop-color="#ffffff"/><stop offset="1" stop-color="#ffffff"/></linearGradient>
<linearGradient id="gFau" gradientUnits="userSpaceOnUse" x1="893" x2="928" y1="0" y2="0"><stop offset="0" stop-color="#909090"/><stop offset="0.25" stop-color="#e0e0e0"/><stop offset="0.5" stop-color="#b4b4b4"/><stop offset="0.82" stop-color="#6c6c6c"/><stop offset="1" stop-color="#a8a8a8"/></linearGradient>
<linearGradient id="gGlassV" x1="0" x2="0" y1="0" y2="1"><stop offset="0" stop-color="#9a9a9a" stop-opacity="0.35"/><stop offset="1" stop-color="#606060" stop-opacity="0.65"/></linearGradient>
<path id="drop" d="M0 -10 C1.5 -6 7 -1 7 4 A7 7 0 0 1 -7 4 C-7 -1 -1.5 -6 0 -10 Z"/>
</defs>
<g id="im1">
<polygon points="595.3,195.1 609.9,193.1 614.1,191.1 616.5,192.3 616.5,208.4 613.6,209.4 609.9,205.6 595.3,207.2" fill="#2a2a2c" stroke="#2a2a2c" stroke-width="0.5" stroke-linejoin="round" />
<line x1="596.0" y1="197.7" x2="609.9" y2="196.1" stroke="#505052" stroke-width="2.3"/>
<polygon points="609.6,174.0 726.1,161.6 737.7,169.0 737.7,184.8 609.6,189.8" fill="#2c2c2e" stroke="#2c2c2e" stroke-width="0.5" stroke-linejoin="round" />
<polygon points="609.6,174.0 663.0,168.5 668.0,184.8 668.8,233.8 644.8,236.6 632.3,228.0 611.6,221.3" fill="#2d2d2f" stroke="#2d2d2f" stroke-width="0.5" stroke-linejoin="round" />
<polygon points="710.3,164.9 726.1,161.6 737.7,169.0 741.9,180.7 742.7,225.5 717.8,228.8 711.2,218.8" fill="#2b2b2d" stroke="#2b2b2d" stroke-width="0.5" stroke-linejoin="round" />
<polygon points="717.8,183.1 741.9,180.7 742.7,225.5 717.8,228.8" fill="#363638" stroke="#363638" stroke-width="0.5" stroke-linejoin="round" />
<polygon points="710.3,173.2 717.8,183.1 717.8,228.8 711.2,218.8" fill="#1f1f21" stroke="#1f1f21" stroke-width="0.5" stroke-linejoin="round" />
<path d="M658.5 155.8 V249.5 L678.5 272.8 V305.2 H691.6 V272.8 L709.8 249.5 V155.8 Z" fill="#cccccc" opacity="0.72"/>
<path d="M658.5 169.5 V186.5 H709.8 V163.6 Z" fill="url(#gGlassV)"/>
<ellipse cx="684.1" cy="155.8" rx="25.7" ry="7.5" fill="#dcdcdc" stroke="#c6c6c6" stroke-width="0.8"/>
<ellipse cx="684.1" cy="156.7" rx="19.9" ry="5.3" fill="#ebebeb" stroke="#cacaca" stroke-width="0.6"/>
<polygon points="701.2,199.4 704.2,197.7 717.8,205.6 717.8,208.2 701.2,210.5" fill="#c2203c" stroke="#c2203c" stroke-width="0.5" stroke-linejoin="round" />
<path d="M666.3 185.6 V249.5 L682.6 273.6 V305.2 H689.2 V273.6 L703.7 249.5 V185.6 Z" fill="url(#gGreen)"/>
<path d="M666.3 249.5 Q684.9 257.5 703.7 249.5 L689.2 273.6 H682.6 Z" fill="#1d8468"/>
<ellipse cx="684.9" cy="185.3" rx="18.6" ry="5.5" fill="#4cc0a0"/>
<path d="M667.3 206.0 Q684.6 216.0 703.9 207.7" stroke="#c2203c" stroke-width="4.0" fill="none"/>
<circle cx="684.6" cy="213.4" r="6.3" fill="#e4eaee"/>
<ellipse cx="685.1" cy="215.0" rx="3.7" ry="2.2" fill="#556" opacity="0.9"/>
<circle cx="690.4" cy="232.1" r="5.0" fill="#fff" opacity="0.25"/>
<circle cx="684.6" cy="241.6" r="3.3" fill="#fff" opacity="0.18"/>
<circle cx="692.2" cy="241.6" r="3.0" fill="#fff" opacity="0.18"/>
<polygon points="632.3,188.5 668.0,184.8 668.8,233.8 644.8,236.6 642.3,192.3" fill="#363638" stroke="#363638" stroke-width="0.5" stroke-linejoin="round" />
<polygon points="609.6,174.8 626.5,182.3 632.3,188.5 642.3,192.3 644.8,236.6 632.3,228.0 611.6,221.3" fill="#2a2a2c" stroke="#2a2a2c" stroke-width="0.5" stroke-linejoin="round" />
<polygon points="632.3,188.5 642.3,192.3 644.8,236.6 634.8,230.0" fill="#303032" stroke="#303032" stroke-width="0.5" stroke-linejoin="round" />
</g>
<g id="im2">
<g transform="translate(180.5,-805.8)">
<line x1="636.6" y1="1050.1" x2="606.6" y2="1076.4" stroke="#555557" stroke-width="10.5" stroke-linecap="round"/>
<line x1="634.9" y1="1047.9" x2="605.6" y2="1073.5" stroke="#7a7a7c" stroke-width="2.6" stroke-linecap="round"/>
<polygon points="728.9,1003.9 737.7,997.4 737.0,1030.3 727.4,1042.8" fill="#151515" stroke="#151515" stroke-width="0.5" stroke-linejoin="round" />
<polygon points="683.8,994.4 728.9,1003.9 727.4,1042.8 683.8,1028.8" fill="#747476" stroke="#747476" stroke-width="0.5" stroke-linejoin="round" />
<polygon points="683.8,1011.3 725.2,1026.6 704.0,1045.7 674.0,1021.5" fill="#d992b4" stroke="#d992b4" stroke-width="0.5" stroke-linejoin="round" />
<polygon points="663.0,1016.4 683.8,994.4 683.8,1011.3 674.0,1021.5" fill="#0e0e0e" stroke="#0e0e0e" stroke-width="0.5" stroke-linejoin="round" />
<polygon points="623.4,1027.4 676.9,972.5 705.8,980.8 707.2,982.0 707.5,987.8 737.7,997.4 728.9,1003.9 683.8,994.4 663.0,1016.4 703.3,1030.3 693.7,1041.3 660.1,1034.0 657.9,1036.2" fill="#656567" stroke="#656567" stroke-width="0.5" stroke-linejoin="round" />
<polygon points="623.4,1027.4 657.9,1035.9 660.2,1038.4 660.2,1069.1 656.4,1071.6 624.2,1061.1" fill="#545456" stroke="#545456" stroke-width="0.5" stroke-linejoin="round" />
<polygon points="660.1,1034.0 693.7,1041.3 693.0,1077.2 660.1,1069.6" fill="#5d5d5f" stroke="#5d5d5f" stroke-width="0.5" stroke-linejoin="round" />
<polygon points="693.7,1041.3 703.3,1030.3 703.3,1065.5 693.0,1077.2" fill="#141414" stroke="#141414" stroke-width="0.5" stroke-linejoin="round" />
<ellipse cx="635.2" cy="1048.6" rx="6.2" ry="7.3" fill="#444446" transform="rotate(-20 635.2 1048.6)"/>
<line x1="634.0" y1="1049.6" x2="606.6" y2="1076.4" stroke="#555557" stroke-width="10.3" stroke-linecap="round"/>
<line x1="632.5" y1="1047.6" x2="605.6" y2="1074.0" stroke="#7c7c7e" stroke-width="2.3" stroke-linecap="round"/>
<ellipse cx="652.0" cy="1030.6" rx="3.5" ry="2.1" fill="#3a3a3c"/>
<ellipse cx="694.5" cy="982.3" rx="2.5" ry="1.5" fill="#444446"/>
</g>
<use href="#drop" transform="translate(870.0,151.2) scale(1.0)" fill="url(#gDrop)"/>
<path d="M866.5 156.2 Q869.0 160.8 873.5 158.2" stroke="#5ab4ea" stroke-width="0.8" fill="none" opacity="0.8"/>
<use href="#drop" transform="translate(870.9,178.6) scale(1.0)" fill="url(#gDrop)"/>
<path d="M867.4 183.6 Q869.9 188.1 874.4 185.6" stroke="#5ab4ea" stroke-width="0.8" fill="none" opacity="0.8"/>
<use href="#drop" transform="translate(871.3,204.4) scale(1.0)" fill="url(#gDrop)"/>
<path d="M867.8 209.4 Q870.3 213.9 874.8 211.4" stroke="#5ab4ea" stroke-width="0.8" fill="none" opacity="0.8"/>
</g>
<g id="im3">
<g transform="translate(0,0)">
<polygon points="585.4,524.8 684.0,552.1 685.0,564.8 585.4,536.5" fill="#3c3c3e" stroke="#3c3c3e" stroke-width="0.5" stroke-linejoin="round" />
<polygon points="684.0,552.1 737.7,478.9 738.1,490.0 685.0,564.8" fill="#2a2a2c" stroke="#2a2a2c" stroke-width="0.5" stroke-linejoin="round" />
<polygon points="585.4,524.8 639.1,450.5 737.7,478.9 684.0,552.1" fill="#a9a9a9" stroke="#a9a9a9" stroke-width="0.5" stroke-linejoin="round" />
<polygon points="609.2,509.5 644.4,461.3 720.5,481.0 685.0,531.0" fill="#4a4a4c" stroke="#4a4a4c" stroke-width="0.5" stroke-linejoin="round" />
<polygon points="609.8,510.1 646.9,467.7 716.2,487.7 685.0,530.6" fill="#f0699a" stroke="#f0699a" stroke-width="0.5" stroke-linejoin="round" />
<ellipse cx="615.7" cy="527.7" rx="2.5" ry="2.0" fill="#1c1c1c"/>
<ellipse cx="658.6" cy="540.0" rx="2.5" ry="2.0" fill="#1c1c1c"/>
<circle cx="594.8" cy="534.5" r="2.0" fill="#1a1a1a" stroke="#666" stroke-width="0.5"/>
<circle cx="675.2" cy="557.0" r="2.0" fill="#1a1a1a" stroke="#666" stroke-width="0.5"/>
<line x1="632.7" y1="546.2" x2="629.3" y2="551.7" stroke="#777" stroke-width="4.3" stroke-linecap="round"/>
</g>
<use href="#drop" transform="translate(665.5,422.2) scale(0.9)" fill="url(#gDrop)"/>
<path d="M662.3 426.7 Q664.6 430.8 668.6 428.5" stroke="#5ab4ea" stroke-width="0.7" fill="none" opacity="0.8"/>
<use href="#drop" transform="translate(665.5,445.7) scale(0.9)" fill="url(#gDrop)"/>
<path d="M662.3 450.2 Q664.6 454.2 668.6 452.0" stroke="#5ab4ea" stroke-width="0.7" fill="none" opacity="0.8"/>
<use href="#drop" transform="translate(665.5,470.1) scale(0.9)" fill="url(#gDrop)"/>
<path d="M662.3 474.6 Q664.6 478.6 668.6 476.4" stroke="#5ab4ea" stroke-width="0.7" fill="none" opacity="0.8"/>
<use href="#drop" transform="translate(665.1,492.0) scale(0.9)" fill="url(#gDrop)"/>
<path d="M661.9 496.5 Q664.2 500.5 668.2 498.3" stroke="#5ab4ea" stroke-width="0.7" fill="none" opacity="0.8"/>
</g>
<g id="im4">
<g transform="translate(781.8,529.2) scale(0.845) translate(-623.4,-1027.4)">
<line x1="636.6" y1="1050.1" x2="606.6" y2="1076.4" stroke="#555557" stroke-width="10.5" stroke-linecap="round"/>
<line x1="634.9" y1="1047.9" x2="605.6" y2="1073.5" stroke="#7a7a7c" stroke-width="2.6" stroke-linecap="round"/>
<polygon points="728.9,1003.9 737.7,997.4 737.0,1030.3 727.4,1042.8" fill="#151515" stroke="#151515" stroke-width="0.5" stroke-linejoin="round" />
<polygon points="683.8,994.4 728.9,1003.9 727.4,1042.8 683.8,1028.8" fill="#747476" stroke="#747476" stroke-width="0.5" stroke-linejoin="round" />
<polygon points="683.8,1011.3 725.2,1026.6 704.0,1045.7 674.0,1021.5" fill="#d992b4" stroke="#d992b4" stroke-width="0.5" stroke-linejoin="round" />
<polygon points="663.0,1016.4 683.8,994.4 683.8,1011.3 674.0,1021.5" fill="#0e0e0e" stroke="#0e0e0e" stroke-width="0.5" stroke-linejoin="round" />
<polygon points="623.4,1027.4 676.9,972.5 705.8,980.8 707.2,982.0 707.5,987.8 737.7,997.4 728.9,1003.9 683.8,994.4 663.0,1016.4 703.3,1030.3 693.7,1041.3 660.1,1034.0 657.9,1036.2" fill="#656567" stroke="#656567" stroke-width="0.5" stroke-linejoin="round" />
<polygon points="623.4,1027.4 657.9,1035.9 660.2,1038.4 660.2,1069.1 656.4,1071.6 624.2,1061.1" fill="#545456" stroke="#545456" stroke-width="0.5" stroke-linejoin="round" />
<polygon points="660.1,1034.0 693.7,1041.3 693.0,1077.2 660.1,1069.6" fill="#5d5d5f" stroke="#5d5d5f" stroke-width="0.5" stroke-linejoin="round" />
<polygon points="693.7,1041.3 703.3,1030.3 703.3,1065.5 693.0,1077.2" fill="#141414" stroke="#141414" stroke-width="0.5" stroke-linejoin="round" />
<ellipse cx="635.2" cy="1048.6" rx="6.2" ry="7.3" fill="#444446" transform="rotate(-20 635.2 1048.6)"/>
<line x1="634.0" y1="1049.6" x2="606.6" y2="1076.4" stroke="#555557" stroke-width="10.3" stroke-linecap="round"/>
<line x1="632.5" y1="1047.6" x2="605.6" y2="1074.0" stroke="#7c7c7e" stroke-width="2.3" stroke-linecap="round"/>
<ellipse cx="652.0" cy="1030.6" rx="3.5" ry="2.1" fill="#3a3a3c"/>
<ellipse cx="694.5" cy="982.3" rx="2.5" ry="1.5" fill="#444446"/>
</g>
<polygon points="855.5,453.2 868.2,454.9 847.3,523.7 839.8,523.1" fill="url(#gWater)"/>
<path d="M894.7 507.8 C902.1 493.6 903.3 470.8 898.1 454.9 C894.2 441.2 888.5 437.2 882.8 437.8 C876.0 438.9 872.0 443.5 871.2 449.8 L850.4 444.1 C857.8 433.3 868.0 425.3 882.8 423.6 C894.2 422.5 900.4 421.9 902.1 415.1 L924.9 418.5 C922.6 428.7 924.3 437.8 923.2 456.0 C922.0 478.8 922.6 495.8 927.4 507.2 C923.7 512.9 898.7 513.5 894.7 507.8 Z" fill="url(#gFau)"/>
<path d="M850.4 444.1 C857.8 433.3 868.0 425.3 882.8 423.6 C894.2 422.5 900.4 421.9 902.1 415.1 L914.6 416.8 C910.1 428.7 889.6 428.7 880.5 432.1 C872.5 435.0 868.0 440.1 863.4 447.5 Z" fill="url(#gSilverV)" opacity="0.9"/>
<ellipse cx="860.9" cy="446.9" rx="11.1" ry="3.2" transform="rotate(15 860.9 446.9)" fill="#e8e8e8" stroke="#bbb" stroke-width="0.5"/>
<ellipse cx="860.9" cy="447.1" rx="8.2" ry="1.9" transform="rotate(15 860.9 447.1)" fill="#4a4a4a"/>
<path d="M901.6 404.2 C907.8 398.6 923.7 401.4 926.6 408.8 L923.2 418.5 C918.0 421.9 903.3 419.6 900.4 414.5 Z" fill="url(#gSilver)"/>
<path d="M900.4 413.9 C905.5 418.5 918.0 420.7 923.5 417.6" fill="none" stroke="#555" stroke-width="0.9"/>
<path d="M881.1 375.2 C888.5 371.3 899.8 374.7 908.9 381.5 C918.0 388.3 926.6 394.0 930.1 398.9 C928.9 403.7 921.5 404.2 914.1 399.7 C908.9 391.7 898.7 383.8 885.6 381.2 Z" fill="url(#gSilverV)"/>
<path d="M894.2 374.3 C905.5 378.7 921.5 390.6 930.1 398.9 C928.5 402.0 925.1 402.3 922.4 399.7 C914.6 390.6 905.5 382.1 894.2 374.3 Z" fill="#5c5c5c" opacity="0.85"/>
<circle cx="884.7" cy="376.7" r="4.6" fill="#f2f2f2" stroke="#d0d0d0" stroke-width="0.6"/>
</g>
<g id="im5">
<rect x="661.1" y="648.8" width="11.1" height="32.2" fill="#dcdcdc"/>
<rect x="661.1" y="648.8" width="11.1" height="7.8" fill="#9c9c9c"/>
<rect x="641.5" y="695.7" width="48.8" height="126.0" fill="url(#gCyl)"/>
<rect x="642.9" y="796.2" width="46.1" height="25.4" fill="#cdcdcf" opacity="0.8"/>
<rect x="642.9" y="796.2" width="46.1" height="4.3" fill="#e2e2e4" opacity="0.9"/>
<rect x="665.0" y="696.6" width="6.8" height="15.6" fill="#d0d0d0"/>
<rect x="637.6" y="680.0" width="57.6" height="16.6" rx="2" fill="#d6d6d6"/>
<rect x="637.6" y="692.3" width="57.6" height="4.3" rx="1.5" fill="#bcbcbc"/>
<path d="M655.2 821.6 H672.8 L671.4 832.4 V840.2 H659.1 V832.4 Z" fill="#c4c4c6"/>
<rect x="685.5" y="776.7" width="2.0" height="39.1" fill="#777" opacity="0.6"/>
<polygon points="617.1,749.8 721.0,751.3 721.0,776.1 616.1,775.2" fill="#1b1b21" stroke="#1b1b21" stroke-width="0.5" stroke-linejoin="round" />
<ellipse cx="652.3" cy="760.1" rx="14.6" ry="6.2" fill="url(#gLed)"/>
<circle cx="653.2" cy="760.1" r="1.8" fill="#dfe6ff"/>
</g>
<g id="im6">
<rect x="892.3" y="713.2" width="30.3" height="14.6" fill="url(#gCable)"/>
<rect x="886.5" y="708.4" width="7.8" height="23.4" rx="3" fill="#3c3c3c"/>
<rect x="755.2" y="695.3" width="131.6" height="50.2" rx="2.5" fill="#828282"/>
<rect x="755.2" y="695.3" width="10.2" height="50.2" rx="2.5" fill="url(#gEnd)"/>
<rect x="876.7" y="695.3" width="10.2" height="50.2" rx="2.5" fill="url(#gEnd)"/>
<rect x="755.2" y="695.3" width="131.6" height="50.2" rx="2.5" fill="none" stroke="#555" stroke-width="0.7"/>
<path d="M792.3 676.1 H848.4 V779.6 L828.9 807.6 V841.2 H813.2 V807.6 L792.3 779.6 Z" fill="#fff" fill-opacity="0.62" stroke="#999" stroke-width="0.7"/>
<path d="M800.2 676.1 V779.6 M842.0 676.1 V779.6" stroke="#aaa" stroke-width="0.7" fill="none"/>
<rect x="800.2" y="695.3" width="41.8" height="15.0" fill="#d2d2d2"/>
<rect x="800.2" y="710.3" width="41.8" height="69.3" fill="url(#gCyan)"/>
<line x1="800.2" y1="710.3" x2="842.0" y2="710.3" stroke="#3aa" stroke-width="0.8"/>
<polygon points="800.2,779.6 842.0,779.6 825.9,806.4 814.6,806.4" fill="url(#gCone)"  />
<path d="M800.2 779.6 Q821.1 784.5 842.0 779.6 Q821.1 776.7 800.2 779.6 Z" fill="#159a78"/>
<rect x="816.2" y="806.4" width="9.4" height="34.8" fill="url(#gCyan)"/>
</g>
<g id="im7">
<g transform="">
<line x1="636.6" y1="1050.1" x2="606.6" y2="1076.4" stroke="#555557" stroke-width="10.5" stroke-linecap="round"/>
<line x1="634.9" y1="1047.9" x2="605.6" y2="1073.5" stroke="#7a7a7c" stroke-width="2.6" stroke-linecap="round"/>
<polygon points="728.9,1003.9 737.7,997.4 737.0,1030.3 727.4,1042.8" fill="#151515" stroke="#151515" stroke-width="0.5" stroke-linejoin="round" />
<polygon points="683.8,994.4 728.9,1003.9 727.4,1042.8 683.8,1028.8" fill="#747476" stroke="#747476" stroke-width="0.5" stroke-linejoin="round" />
<polygon points="683.8,1011.3 725.2,1026.6 704.0,1045.7 674.0,1021.5" fill="#d992b4" stroke="#d992b4" stroke-width="0.5" stroke-linejoin="round" />
<polygon points="663.0,1016.4 683.8,994.4 683.8,1011.3 674.0,1021.5" fill="#0e0e0e" stroke="#0e0e0e" stroke-width="0.5" stroke-linejoin="round" />
<polygon points="623.4,1027.4 676.9,972.5 705.8,980.8 707.2,982.0 707.5,987.8 737.7,997.4 728.9,1003.9 683.8,994.4 663.0,1016.4 703.3,1030.3 693.7,1041.3 660.1,1034.0 657.9,1036.2" fill="#656567" stroke="#656567" stroke-width="0.5" stroke-linejoin="round" />
<polygon points="623.4,1027.4 657.9,1035.9 660.2,1038.4 660.2,1069.1 656.4,1071.6 624.2,1061.1" fill="#545456" stroke="#545456" stroke-width="0.5" stroke-linejoin="round" />
<polygon points="660.1,1034.0 693.7,1041.3 693.0,1077.2 660.1,1069.6" fill="#5d5d5f" stroke="#5d5d5f" stroke-width="0.5" stroke-linejoin="round" />
<polygon points="693.7,1041.3 703.3,1030.3 703.3,1065.5 693.0,1077.2" fill="#141414" stroke="#141414" stroke-width="0.5" stroke-linejoin="round" />
<ellipse cx="635.2" cy="1048.6" rx="6.2" ry="7.3" fill="#444446" transform="rotate(-20 635.2 1048.6)"/>
<line x1="634.0" y1="1049.6" x2="606.6" y2="1076.4" stroke="#555557" stroke-width="10.3" stroke-linecap="round"/>
<line x1="632.5" y1="1047.6" x2="605.6" y2="1074.0" stroke="#7c7c7e" stroke-width="2.3" stroke-linecap="round"/>
<ellipse cx="652.0" cy="1030.6" rx="3.5" ry="2.1" fill="#3a3a3c"/>
<ellipse cx="694.5" cy="982.3" rx="2.5" ry="1.5" fill="#444446"/>
</g>
<rect x="682.4" y="942.0" width="9.2" height="24.5" rx="4.6" fill="#c21a2c"/>
<path d="M682.4 954.3 V946.6 A4.6 4.6 0 0 1 691.6 946.6 V954.3 Z" fill="#2392cf"/>
<rect x="684.4" y="944.0" width="2" height="20.5" rx="1" fill="#fff" opacity="0.3"/>
<rect x="699.8" y="968.2" width="9.2" height="24.5" rx="4.6" fill="#c21a2c"/>
<path d="M699.8 980.5 V972.9 A4.6 4.6 0 0 1 709.0 972.9 V980.5 Z" fill="#2392cf"/>
<rect x="701.8" y="970.2" width="2" height="20.5" rx="1" fill="#fff" opacity="0.3"/>
<rect x="690.2" y="998.0" width="9.2" height="24.5" rx="4.6" fill="#c21a2c"/>
<path d="M690.2 1010.2 V1002.6 A4.6 4.6 0 0 1 699.4 1002.6 V1010.2 Z" fill="#2392cf"/>
<rect x="692.2" y="1000.0" width="2" height="20.5" rx="1" fill="#fff" opacity="0.3"/>
</g>
<g id="im8">
<line x1="792.1" y1="1059.0" x2="766.5" y2="1088.1" stroke="#555557" stroke-width="8.5" stroke-linecap="round"/>
<polygon points="922.0,1006.1 930.4,998.7 932.8,1028.3 924.2,1040.8" fill="#151515" stroke="#151515" stroke-width="0.5" stroke-linejoin="round" />
<polygon points="855.2,990.9 922.0,1006.1 924.2,1040.8 914.6,1038.6 845.9,1022.8" fill="#747476" stroke="#747476" stroke-width="0.5" stroke-linejoin="round" />
<polygon points="845.9,1007.9 922.9,1023.7 888.6,1062.7 826.4,1032.1" fill="#dc8fac" stroke="#dc8fac" stroke-width="0.5" stroke-linejoin="round" />
<polygon points="816.2,1027.4 836.6,1004.2 845.9,1007.9 826.4,1032.1" fill="#101010" stroke="#101010" stroke-width="0.5" stroke-linejoin="round" />
<polygon points="781.0,1041.3 839.4,971.2 871.9,979.2 872.8,983.8 930.4,998.7 922.0,1006.1 855.2,990.9 836.6,1004.2 816.2,1027.4 826.4,1032.1 887.7,1048.8 880.3,1058.0 818.1,1046.0 815.3,1048.2" fill="#646466" stroke="#646466" stroke-width="0.5" stroke-linejoin="round" />
<polygon points="781.0,1041.3 815.3,1048.0 818.3,1051.0 818.3,1077.5 814.4,1079.6 781.9,1068.2" fill="#565658" stroke="#565658" stroke-width="0.5" stroke-linejoin="round" />
<polygon points="818.1,1046.0 880.3,1058.0 881.2,1089.6 818.1,1077.0" fill="#5e5e60" stroke="#5e5e60" stroke-width="0.5" stroke-linejoin="round" />
<polygon points="880.3,1058.0 887.7,1048.8 890.5,1076.6 881.2,1089.6" fill="#141414" stroke="#141414" stroke-width="0.5" stroke-linejoin="round" />
<ellipse cx="790.3" cy="1057.1" rx="5.6" ry="6.7" fill="#9a9aa0" transform="rotate(-25 790.3 1057.1)"/>
<line x1="789.3" y1="1060.8" x2="766.5" y2="1088.1" stroke="#555557" stroke-width="8.2" stroke-linecap="round"/>
<line x1="787.7" y1="1059.5" x2="765.4" y2="1085.9" stroke="#7c7c7e" stroke-width="1.9" stroke-linecap="round"/>
<ellipse cx="809.7" cy="1043.6" rx="4.1" ry="2.2" fill="#3c3c3e"/>
<ellipse cx="864.5" cy="979.7" rx="3.7" ry="2.0" fill="#48484a"/>
<circle cx="870.0" cy="951.5" r="12" fill="url(#gBtn)"/>
<circle cx="870.0" cy="951.5" r="8.6" fill="none" stroke="#5a3024" stroke-width="1"/>
<circle cx="867.7" cy="951.0" r="1.15" fill="#f6ecec"/>
<circle cx="872.3" cy="952.0" r="1.15" fill="#f6ecec"/>
<circle cx="870.5" cy="949.0" r="1.15" fill="#f6ecec"/>
<circle cx="869.5" cy="954.0" r="1.15" fill="#f6ecec"/>
<circle cx="899.4" cy="969.3" r="12" fill="url(#gBtn)"/>
<circle cx="899.4" cy="969.3" r="8.6" fill="none" stroke="#5a3024" stroke-width="1"/>
<circle cx="897.1" cy="968.8" r="1.15" fill="#f6ecec"/>
<circle cx="901.7" cy="969.8" r="1.15" fill="#f6ecec"/>
<circle cx="899.9" cy="966.8" r="1.15" fill="#f6ecec"/>
<circle cx="898.9" cy="971.8" r="1.15" fill="#f6ecec"/>
<circle cx="845.9" cy="995.5" r="12" fill="url(#gBtn)"/>
<circle cx="845.9" cy="995.5" r="8.6" fill="none" stroke="#5a3024" stroke-width="1"/>
<circle cx="843.6" cy="995.0" r="1.15" fill="#f6ecec"/>
<circle cx="848.2" cy="996.0" r="1.15" fill="#f6ecec"/>
<circle cx="846.4" cy="993.0" r="1.15" fill="#f6ecec"/>
<circle cx="845.4" cy="998.0" r="1.15" fill="#f6ecec"/>
<circle cx="869.5" cy="1022.0" r="12" fill="url(#gBtn)"/>
<circle cx="869.5" cy="1022.0" r="8.6" fill="none" stroke="#5a3024" stroke-width="1"/>
<circle cx="867.2" cy="1021.5" r="1.15" fill="#f6ecec"/>
<circle cx="871.8" cy="1022.5" r="1.15" fill="#f6ecec"/>
<circle cx="870.0" cy="1019.5" r="1.15" fill="#f6ecec"/>
<circle cx="869.0" cy="1024.5" r="1.15" fill="#f6ecec"/>
</g>
<g id="im9">
<g transform="translate(0.6,751)">
<polygon points="585.4,524.8 684.0,552.1 685.0,564.8 585.4,536.5" fill="#3c3c3e" stroke="#3c3c3e" stroke-width="0.5" stroke-linejoin="round" />
<polygon points="684.0,552.1 737.7,478.9 738.1,490.0 685.0,564.8" fill="#2a2a2c" stroke="#2a2a2c" stroke-width="0.5" stroke-linejoin="round" />
<polygon points="585.4,524.8 639.1,450.5 737.7,478.9 684.0,552.1" fill="#a9a9a9" stroke="#a9a9a9" stroke-width="0.5" stroke-linejoin="round" />
<polygon points="609.2,509.5 644.4,461.3 720.5,481.0 685.0,531.0" fill="#4a4a4c" stroke="#4a4a4c" stroke-width="0.5" stroke-linejoin="round" />
<polygon points="609.8,510.1 646.9,467.7 716.2,487.7 685.0,530.6" fill="#f0699a" stroke="#f0699a" stroke-width="0.5" stroke-linejoin="round" />
<ellipse cx="615.7" cy="527.7" rx="2.5" ry="2.0" fill="#1c1c1c"/>
<ellipse cx="658.6" cy="540.0" rx="2.5" ry="2.0" fill="#1c1c1c"/>
<circle cx="594.8" cy="534.5" r="2.0" fill="#1a1a1a" stroke="#666" stroke-width="0.5"/>
<circle cx="675.2" cy="557.0" r="2.0" fill="#1a1a1a" stroke="#666" stroke-width="0.5"/>
<line x1="632.7" y1="546.2" x2="629.3" y2="551.7" stroke="#777" stroke-width="4.3" stroke-linecap="round"/>
</g>
<ellipse cx="674.3" cy="1192.0" rx="7.8" ry="9.8" fill="url(#gSeed)" transform="rotate(20 674.3 1192.0)"/>
<ellipse cx="701.0" cy="1182.8" rx="7.8" ry="9.8" fill="url(#gSeed)" transform="rotate(20 701.0 1182.8)"/>
<ellipse cx="647.5" cy="1213.5" rx="7.8" ry="9.8" fill="url(#gSeed)" transform="rotate(15 647.5 1213.5)"/>
<ellipse cx="679.5" cy="1225.2" rx="7.8" ry="9.8" fill="url(#gSeed)" transform="rotate(15 679.5 1225.2)"/>
<ellipse cx="662.5" cy="1245.7" rx="7.8" ry="9.8" fill="url(#gSeed)" transform="rotate(15 662.5 1245.7)"/>
</g>
</svg>
<div class="bl" style="left:621.3px;top:317px">气泡检测</div>
<div class="bl" style="left:786.7px;top:317px">液滴检测</div>
<div class="bl" style="left:626px;top:586px">液滴检测</div>
<div class="bl" style="left:794.6px;top:586px">液柱检测</div>
<div class="bl" style="left:623.5px;top:854.2px;padding-right:8px">输液监测</div>
<div class="bl" style="left:772.3px;top:854.2px;padding-right:8px">液位检测</div>
<div class="bl" style="left:609.8px;top:1110.4px;padding-right:8px">药丸计数</div>
<div class="bl" style="left:784px;top:1110.8px;padding-right:8px">纽扣计数</div>
<div class="bl" style="left:610.8px;top:1331.5px;padding-right:8px">种子计数</div>
</body></html>
